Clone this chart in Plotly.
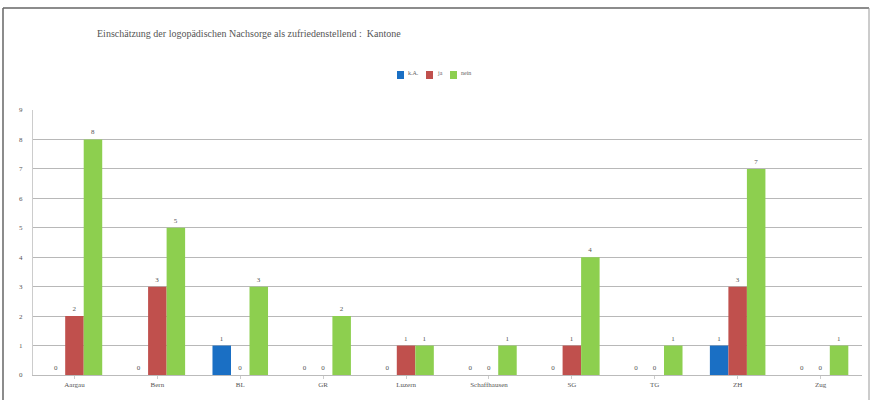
import plotly.graph_objects as go

categories = ["Aargau", "Bern", "BL", "GR", "Luzern", "Schaffhausen", "SG", "TG", "ZH", "Zug"]
series_names = ["k.A.", "ja", "nein"]
ka_values = [0, 0, 1, 0, 0, 0, 0, 0, 1, 0]
ja_values = [2, 3, 0, 0, 1, 0, 1, 0, 3, 0]
nein_values = [8, 5, 3, 2, 1, 1, 4, 1, 7, 1]
colors = ["#1a6fc4", "#c0504d", "#8dcf4f"]
title_text = "Einschätzung der logopädischen Nachsorge als zufriedenstellend :  Kantone"
y_ticks = list(range(0, 10))

W, H = 876, 400
L, R, T, B = 33, 14, 110, 25
pw, ph = W - L - R, H - T - B

fig = go.Figure()
for name, vals, col in zip(series_names, [ka_values, ja_values, nein_values], colors):
    fig.add_trace(go.Bar(
        x=categories, y=vals, name=name, marker=dict(color=col, line=dict(width=0)),
        text=[str(v) for v in vals], textposition="outside", cliponaxis=False,
        textfont=dict(size=7, color="#555555", family="Liberation Serif"),
        showlegend=False,
    ))

def px_x(p):
    return (p - L) / pw

def px_y(p):
    return (H - B - p) / ph

shapes = [
    dict(type="line", xref="paper", yref="paper", x0=px_x(3), x1=px_x(3), y0=px_y(8), y1=px_y(402), line=dict(color="#666666", width=1.5)),
    dict(type="line", xref="paper", yref="paper", x0=px_x(3), x1=px_x(869), y0=px_y(8), y1=px_y(8), line=dict(color="#666666", width=1.5)),
    dict(type="line", xref="paper", yref="paper", x0=px_x(869), x1=px_x(869), y0=px_y(8), y1=px_y(402), line=dict(color="#999999", width=1)),
]
annotations = []
# compact legend, Excel-like
leg_x = [397, 426, 450]
for name, col, lx in zip(series_names, colors, leg_x):
    shapes.append(dict(type="rect", xref="paper", yref="paper",
                       x0=px_x(lx), x1=px_x(lx + 7), y0=px_y(79), y1=px_y(71),
                       fillcolor=col, line=dict(width=0)))
    annotations.append(dict(xref="paper", yref="paper", x=px_x(lx + 9), y=px_y(73),
                            xanchor="left", yanchor="middle", showarrow=False,
                            text=name, font=dict(size=6, color="#666666")))

fig.update_layout(
    width=W, height=H,
    margin=dict(l=L, r=R, t=T, b=B),
    paper_bgcolor="white", plot_bgcolor="white",
    barmode="group", bargap=0.33, bargroupgap=0,
    font=dict(family="Liberation Serif", size=8, color="#444444"),
    title=dict(text=title_text, x=97 / W, xanchor="left",
               y=1 - 33 / H, yanchor="middle",
               font=dict(size=10, color="#555555", family="Liberation Serif")),
    showlegend=False,
    xaxis=dict(showgrid=False, showline=True, linecolor="#bbbbbb", linewidth=1,
               ticks="outside", ticklen=3, tickcolor="#cccccc",
               tickfont=dict(size=7, color="#555555")),
    yaxis=dict(range=[0, 9], tickvals=y_ticks, showgrid=True, gridcolor="#b8b8b8",
               gridwidth=1, showline=True, linecolor="#cccccc", zeroline=False,
               tickfont=dict(size=7, color="#555555"), ticks="", ticklabelstandoff=8),
    shapes=shapes,
    annotations=annotations,
)

fig.write_html("out.html")
